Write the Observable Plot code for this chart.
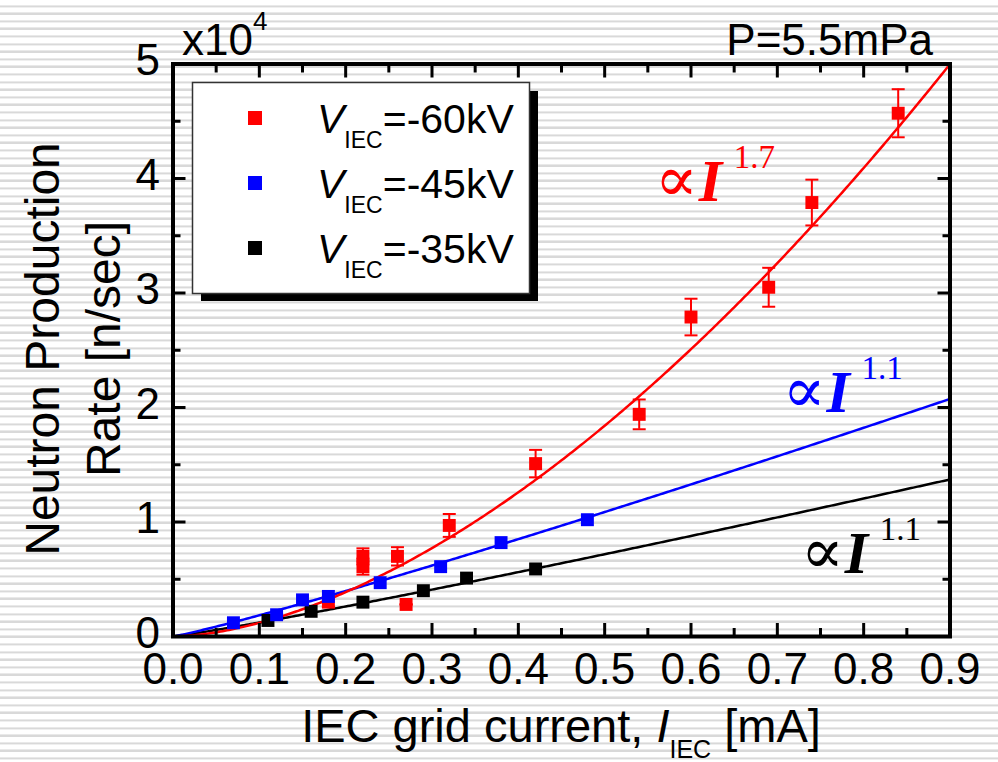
<!DOCTYPE html>
<html>
<head>
<meta charset="utf-8">
<script src="https://cdn.jsdelivr.net/npm/d3@7"></script>
<script src="https://cdn.jsdelivr.net/npm/@observablehq/plot@0.6"></script>
<style>
  html, body { margin: 0; padding: 0; }
  body {
    width: 998px; height: 762px; overflow: hidden;
    background: repeating-linear-gradient(to bottom,
      #ffffff 0px, #ffffff 4.6px, #e9e9e9 4.6px, #e9e9e9 5.6px,
      #d9d9d9 5.6px, #d9d9d9 7px, #efefef 7px, #efefef 7.6px);
  }
  #chart svg { display: block; }
</style>
</head>
<body>
<div id="chart"></div>
<script>
// ---------- data ----------
const seriesNames = ["-60kV", "-45kV", "-35kV"];
const seriesColors = ["#ff0000", "#0000ff", "#000000"];
const fitExponent = [1.7, 1.1, 1.1];
const fitCoefficient = [5.98, 2.33, 1.54];   // units of 1e4 n/sec at 1 mA

// V = -60 kV (with error bars)
const x60 = [0.18, 0.22, 0.22, 0.26, 0.27, 0.32, 0.42, 0.54, 0.60, 0.69, 0.74, 0.84];
const y60 = [0.30, 0.70, 0.61, 0.70, 0.28, 0.97, 1.51, 1.94, 2.79, 3.05, 3.79, 4.57];
const e60 = [0.04, 0.07, 0.07, 0.08, 0.00, 0.10, 0.12, 0.13, 0.16, 0.17, 0.20, 0.21];
// V = -45 kV
const x45 = [0.07, 0.12, 0.15, 0.18, 0.24, 0.31, 0.38, 0.48];
const y45 = [0.12, 0.19, 0.32, 0.35, 0.47, 0.61, 0.82, 1.02];
// V = -35 kV
const x35 = [0.11, 0.16, 0.22, 0.29, 0.34, 0.42];
const y35 = [0.14, 0.22, 0.30, 0.40, 0.51, 0.59];

const xTicks = [0, 0.1, 0.2, 0.3, 0.4, 0.5, 0.6, 0.7, 0.8, 0.9];
const xMinorTicks = [0.05, 0.15, 0.25, 0.35, 0.45, 0.55, 0.65, 0.75, 0.85];
const yTicks = [0, 1, 2, 3, 4, 5];
const yMinorTicks = [0.5, 1.5, 2.5, 3.5, 4.5];

// annotation anchors (data coords of the "∝" start / baseline)
const annotX = [0.558, 0.706, 0.727];
const annotY = [3.80, 1.96, 0.557];

// ---------- build tables ----------
const xs = [x60, x45, x35], ys = [y60, y45, y35];
const drawOrder = [0, 2, 1];
const points = drawOrder.flatMap(i => xs[i].map((x, j) => ({x, y: ys[i][j], color: seriesColors[i]})));
const errRows = x60.map((x, j) => ({x, lo: y60[j] - e60[j], hi: y60[j] + e60[j]}));
const fitRows = [2, 1, 0].flatMap(i =>
  d3.range(0, 0.9 + 1e-9, 0.0025).map(x => ({s: i, x, y: fitCoefficient[i] * Math.pow(x, fitExponent[i]), color: seriesColors[i]})));
const ann = seriesNames.map((s, i) => ({x: annotX[i], y: annotY[i], color: seriesColors[i], exp: fitExponent[i].toFixed(1)}));

const capSymbol = {draw(ctx, size) { const w = Math.sqrt(size / Math.PI); ctx.moveTo(-w, 0); ctx.lineTo(w, 0); }};
const serif = "'Liberation Serif', 'Times New Roman', 'DejaVu Serif', serif";
const tickOnly = {label: null, tickFormat: () => "", strokeWidth: 3, stroke: "black"};

const svg = Plot.plot({
  width: 998, height: 762,
  marginLeft: 172.5, marginRight: 48.5, marginTop: 63.5, marginBottom: 126,
  x: {domain: [0, 0.9]},
  y: {domain: [0, 5]},
  color: {type: "identity"},
  style: {background: "transparent", fontFamily: "'Liberation Sans', Arial, sans-serif", color: "black", overflow: "visible"},
  marks: [
    Plot.line(fitRows, {x: "x", y: "y", z: "s", stroke: "color", strokeWidth: 2.5, clip: true}),
    Plot.ruleX(errRows, {x: "x", y1: "lo", y2: "hi", stroke: "#ff0000", strokeWidth: 2}),
    Plot.dot(errRows, {x: "x", y: "lo", symbol: capSymbol, r: 6.5, stroke: "#ff0000", strokeWidth: 2, fill: "none"}),
    Plot.dot(errRows, {x: "x", y: "hi", symbol: capSymbol, r: 6.5, stroke: "#ff0000", strokeWidth: 2, fill: "none"}),
    Plot.dot(points, {x: "x", y: "y", symbol: "square", r: 7.3, fill: "color", stroke: null}),
    Plot.text(ann, {x: "x", y: "y", text: () => "\u221D", fill: "color", textAnchor: "start", lineAnchor: "bottom", fontSize: 64, fontFamily: serif}),
    Plot.text(ann, {x: "x", y: "y", text: () => "I", dx: 44, fill: "color", textAnchor: "start", lineAnchor: "bottom", fontSize: 60, fontWeight: "bold", fontStyle: "italic", fontFamily: serif}),
    Plot.text(ann, {x: "x", y: "y", text: "exp", dx: 79, dy: -33, fill: "color", textAnchor: "start", lineAnchor: "bottom", fontSize: 33, fontFamily: serif}),
    Plot.frame({stroke: "black", strokeWidth: 4}),
    Plot.axisX({ticks: xTicks, anchor: "bottom", tickSize: -13, ...tickOnly}),
    Plot.axisX({ticks: xMinorTicks, anchor: "bottom", tickSize: -8, ...tickOnly}),
    Plot.axisX({ticks: xTicks, anchor: "top", tickSize: -13, ...tickOnly}),
    Plot.axisX({ticks: xMinorTicks, anchor: "top", tickSize: -8, ...tickOnly}),
    Plot.axisY({ticks: yTicks, anchor: "left", tickSize: -13, ...tickOnly}),
    Plot.axisY({ticks: yMinorTicks, anchor: "left", tickSize: -8, ...tickOnly}),
    Plot.axisY({ticks: yTicks, anchor: "right", tickSize: -13, ...tickOnly}),
    Plot.axisY({ticks: yMinorTicks, anchor: "right", tickSize: -8, ...tickOnly}),
    Plot.axisX({ticks: xTicks, anchor: "bottom", tickSize: 0, tickPadding: 16, fontSize: 44, tickFormat: d3.format(".1f"), label: null}),
    Plot.axisY({ticks: yTicks, anchor: "left", tickSize: 0, tickPadding: 13, dy: -3, fontSize: 44, tickFormat: d3.format("d"), label: null})
  ]
});

document.getElementById("chart").appendChild(svg);

// ---------- extra text & legend ----------
const S = d3.select(svg);
const sans = "'Liberation Sans', Arial, sans-serif";

// y-axis label (two lines)
const yl = [["Neutron Production", 59], ["Rate [n/sec]", 120]];
yl.forEach(([t, bx]) => {
  S.append("text").attr("transform", `translate(${bx},349) rotate(-90)`)
    .attr("text-anchor", "middle").attr("font-family", sans).attr("font-size", 48).attr("fill", "black").text(t);
});

// x-axis label
const xl = S.append("text").attr("x", 561).attr("y", 742).attr("text-anchor", "middle")
  .attr("font-family", sans).attr("font-size", 47).attr("fill", "black");
xl.append("tspan").text("IEC grid current, ");
xl.append("tspan").attr("font-style", "italic").text("I");
xl.append("tspan").attr("font-size", 25).attr("dy", 16).text("IEC");
xl.append("tspan").attr("dy", -16).text(" [mA]");

// exponent multiplier
const mult = S.append("text").attr("x", 182).attr("y", 55).attr("text-anchor", "start")
  .attr("font-family", sans).attr("font-size", 44).attr("fill", "black");
mult.append("tspan").text("x10");
mult.append("tspan").attr("font-size", 26).attr("dy", -25).text("4");

// pressure note
S.append("text").attr("x", 933).attr("y", 55).attr("text-anchor", "end").attr("font-family", sans)
  .attr("font-size", 44).attr("fill", "black").text("P=5.5mPa");

// legend box with drop shadow
const lg = S.append("g");
lg.append("rect").attr("x", 201).attr("y", 91).attr("width", 337).attr("height", 210).attr("fill", "black");
lg.append("rect").attr("x", 192.5).attr("y", 82.5).attr("width", 337).attr("height", 211)
  .attr("fill", "white").attr("stroke", "#333").attr("stroke-width", 1.5);
seriesNames.forEach((name, i) => {
  const cy = 118 + i * 65;
  lg.append("rect").attr("x", 248).attr("y", cy - 7).attr("width", 14).attr("height", 14).attr("fill", seriesColors[i]);
  const t = lg.append("text").attr("x", 317).attr("y", cy + 15).attr("text-anchor", "start")
    .attr("font-family", sans).attr("font-size", 41).attr("fill", "black");
  t.append("tspan").attr("font-style", "italic").text("V");
  t.append("tspan").attr("font-size", 23).attr("dy", 15).text("IEC");
  t.append("tspan").attr("dy", -15).text("=" + name);
});
</script>
</body>
</html>
